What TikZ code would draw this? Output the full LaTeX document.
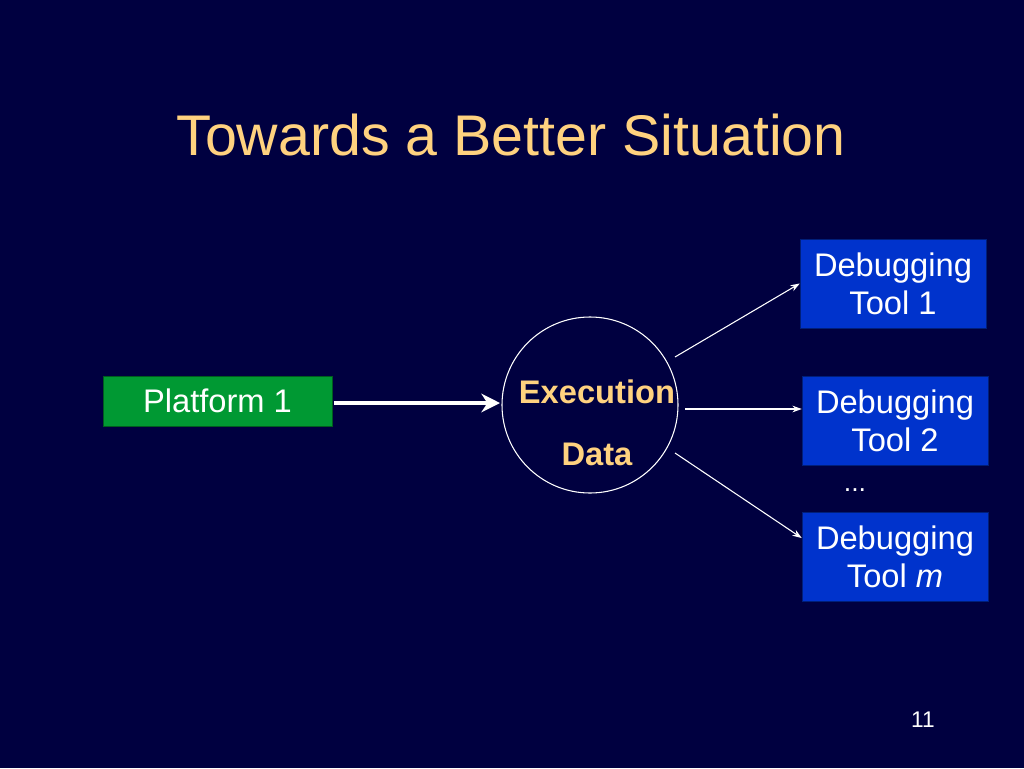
\documentclass[tikz,border=0pt]{standalone}
\usepackage{fontspec}
\setmainfont{Liberation Sans}
\usetikzlibrary{arrows.meta}
\definecolor{bg}{HTML}{000040}
\definecolor{ttl}{HTML}{FFD27F}
\definecolor{dtblue}{HTML}{0033CC}
\definecolor{pgreen}{HTML}{009933}
\begin{document}
\begin{tikzpicture}[x=0.75pt,y=-0.75pt,
  box/.style={draw=dtblue!60!black,fill=dtblue,text=white,font=\fontsize{24.5}{28.5}\selectfont,align=center,inner sep=0pt},
  conn/.style={draw=white,-{Stealth[length=7pt,width=5pt]},line width=0.8pt}]
\fill[bg] (0,0) rectangle (1024,768);
\useasboundingbox (0,0) rectangle (1024,768);
\node[text=ttl,font=\fontsize{43}{50}\selectfont] (title) at (511,135) {Towards a Better Situation};
\node[box,fill=pgreen,draw=pgreen!60!black,minimum width=229*0.75pt,minimum height=50*0.75pt] (p1) at (217.5,401) {Platform 1};
\node[draw=white,circle,minimum size=176*0.75pt,line width=0.8pt] (ed) at (590,405) {};
\node[text=ttl,font=\bfseries\fontsize{24.5}{28.5}\selectfont] (ex) at (597,392) {Execution};
\node[text=ttl,font=\bfseries\fontsize{24.5}{28.5}\selectfont] (da) at (597,454) {Data};
\node[box,minimum width=186*0.75pt,minimum height=89*0.75pt] (t1) at (893,283.5) {Debugging\\Tool 1};
\node[box,minimum width=186*0.75pt,minimum height=89*0.75pt] (t2) at (895,420.5) {Debugging\\Tool 2};
\node[box,minimum width=186*0.75pt,minimum height=89*0.75pt] (tm) at (895,556.5) {Debugging\\Tool \textit{m}};
\node[text=white,font=\fontsize{20}{24}\selectfont] (dots) at (855,490) {...};
\node[text=white,font=\fontsize{17}{20}\selectfont] (pg) at (923,720) {11};
\draw[draw=white,line width=3.5pt,-{Stealth[length=14pt,width=14pt]}] (p1.east)++(2,2) -- (500,403) coordinate (ein);
\coordinate (s1) at (675,357);
\coordinate (s2) at (685,409);
\coordinate (s3) at (675,453);
\draw[conn] (s1) -- (t1.west);
\draw[conn] (s2) -- (t2.west|-s2);
\draw[conn] (s3) -- (tm.west|-0,538);
\end{tikzpicture}
\end{document}
